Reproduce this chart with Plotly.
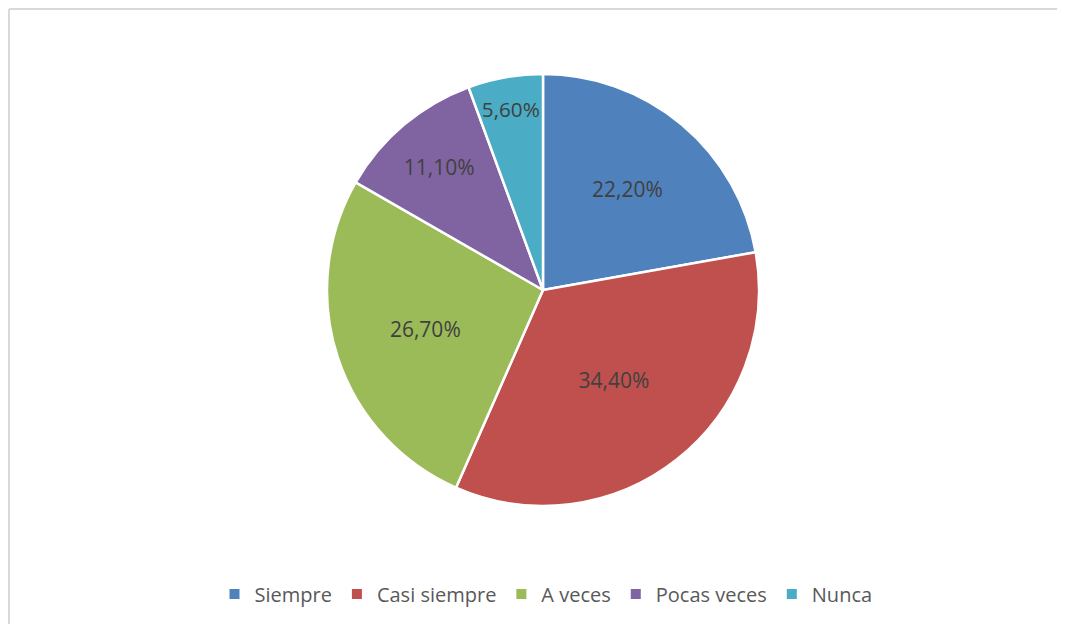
import plotly.graph_objects as go

categories = ["Siempre", "Casi siempre", "A veces", "Pocas veces", "Nunca"]
values = [22.2, 34.4, 26.7, 11.1, 5.6]
colors = ["#4F81BD", "#C0504D", "#9BBB59", "#8064A2", "#4BACC6"]

labels_text = [f"{v:.2f}%".replace(".", ",") for v in values]

# page body has an 8px margin, so the figure is laid out in shifted coordinates
OFF = 8
W, H = 1065 - OFF, 624 - OFF
cx, cy, r = 543 - OFF, 290 - OFF, 216

fig = go.Figure(go.Pie(
    labels=categories,
    values=values,
    text=labels_text,
    texttemplate="%{text}",
    textposition="inside",
    insidetextorientation="horizontal",
    sort=False,
    direction="clockwise",
    rotation=0,
    marker=dict(colors=colors, line=dict(color="white", width=2.5)),
    textfont=dict(family="Open Sans, Liberation Sans, sans-serif", size=21, color="#404040"),
    domain=dict(x=[(cx - r) / W, (cx + r) / W], y=[1 - (cy + r) / H, 1 - (cy - r) / H]),
    hoverinfo="label+percent",
))

fig.update_layout(
    width=W, height=H,
    margin=dict(l=0, r=0, t=0, b=0),
    paper_bgcolor="white",
    plot_bgcolor="white",
    showlegend=True,
    legend=dict(
        orientation="h",
        x=(546 - OFF) / W, xanchor="center",
        y=1 - (594 - OFF) / H, yanchor="middle",
        font=dict(family="Open Sans, Liberation Sans, sans-serif", size=20, color="#595959"),
        itemsizing="constant",
        traceorder="normal",
    ),
    shapes=[
        dict(type="line", xref="paper", yref="paper",
             x0=1 / W, x1=1, y0=1 - 1 / H, y1=1 - 1 / H,
             line=dict(color="#D9D9D9", width=2)),
        dict(type="line", xref="paper", yref="paper",
             x0=1 / W, x1=1 / W, y0=0, y1=1 - 1 / H,
             line=dict(color="#D9D9D9", width=2)),
    ],
)

fig.write_html("out.html", config={"displayModeBar": False})
